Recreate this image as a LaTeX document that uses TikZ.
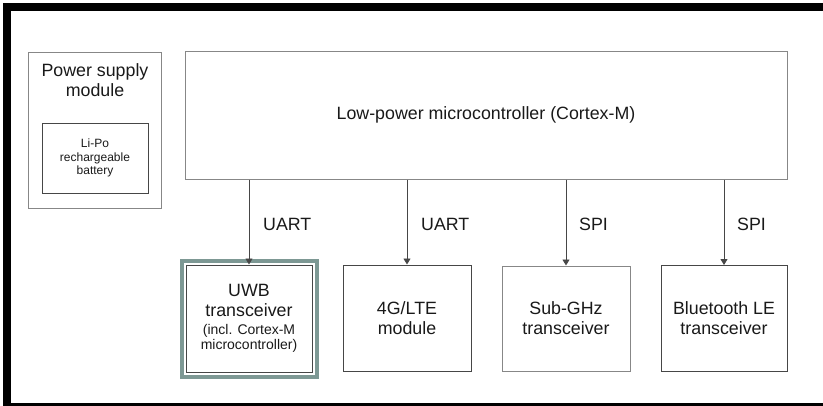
\documentclass[tikz,border=0pt]{standalone}
\usepackage{fontspec}
\setmainfont{Liberation Sans}
\usetikzlibrary{arrows.meta}

\definecolor{uwbgreen}{RGB}{125,152,148}
\definecolor{boxgray}{RGB}{135,135,135}
\definecolor{boxdark}{RGB}{70,70,70}
\definecolor{txt}{RGB}{25,25,25}
\newcommand{\bigsz}{\fontsize{17.8}{20}\selectfont}
\newcommand{\smallsz}{\fontsize{14}{15}\selectfont}

\begin{document}
\begin{tikzpicture}[x=1pt, y=-1pt,
  blk/.style={draw=boxgray, line width=1pt, inner sep=0pt, align=center, font=\bigsz, text=txt},
  dark/.style={draw=boxdark},
  link/.style={draw=boxdark, line width=0.9pt, -{Triangle[width=7pt,length=6pt]}},
  bus/.style={font=\bigsz, anchor=west, inner sep=0pt, text=txt}]
\useasboundingbox (0,0) rectangle (823,405);
\draw[line width=8pt] (7,7) rectangle (840,406.5);

% power supply
\node[blk, minimum width=133pt, minimum height=156pt] (power) at (94.5,130) {};
\node[align=center, font=\bigsz, inner sep=0pt, text=txt] (powertxt) at (95,80) {Power supply\\module};
\node[blk, dark, minimum width=106pt, minimum height=70pt, font=\fontsize{12}{13.5}\selectfont] (battery) at (95,158)
  {Li-Po\\rechargeable\\battery};

% controller
\node[blk, minimum width=602pt, minimum height=128pt] (mcu) at (486,115) {Low-power microcontroller (Cortex-M)};

% radios
\node[blk, dark, minimum width=126pt, minimum height=107pt] (uwb) at (249,318.5)
  {UWB\\transceiver\\[-2pt]{\smallsz (incl. Cortex-M}\\[-5pt]{\smallsz microcontroller)}};
\node[blk, dark, minimum width=128pt, minimum height=106pt] (lte) at (407,318) {4G/LTE\\module};
\node[blk, minimum width=128pt, minimum height=105pt] (subghz) at (566,318.5) {Sub-GHz\\transceiver};
\node[blk, dark, minimum width=126pt, minimum height=106pt] (ble) at (724,318.5) {Bluetooth LE\\transceiver};
\draw[uwbgreen, line width=4pt] ([shift={(-4,-4)}]uwb.north west) rectangle ([shift={(4,4)}]uwb.south east);

% links
\draw[link] (mcu.south -| uwb.north) -- (uwb.north);
\draw[link] (mcu.south -| lte.north) -- (lte.north);
\draw[link] (mcu.south -| subghz.north) -- (subghz.north);
\draw[link] (mcu.south -| ble.north) -- (ble.north);
\node[bus] (l1) at (263,224) {UART};
\node[bus] (l2) at (421,224) {UART};
\node[bus] (l3) at (579,224) {SPI};
\node[bus] (l4) at (737,224) {SPI};
\end{tikzpicture}
\end{document}
